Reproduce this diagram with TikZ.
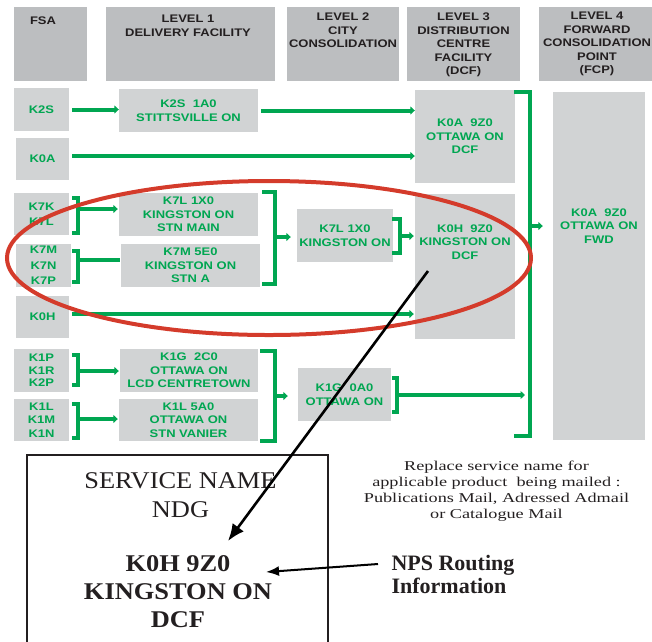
\documentclass[tikz,border=0pt]{standalone}
\usepackage{fontspec}
\setmainfont{Liberation Serif}
\newfontfamily\routefont{Liberation Sans}[FakeStretch=1.18]
\newfontfamily\labelfont{Liberation Serif}[FakeStretch=1.1]
\newfontfamily\notefont{Liberation Serif}[FakeStretch=1.35]
\usetikzlibrary{arrows.meta,positioning,calc}

\definecolor{npsgreen}{HTML}{00A651}
\definecolor{headgray}{HTML}{BCBEC0}
\definecolor{boxgray}{HTML}{D1D3D4}
\definecolor{ringred}{HTML}{D43B2B}
\definecolor{inkgray}{HTML}{231F20}

\tikzset{
	wh/.style 2 args={minimum width=#1pt, minimum height=#2pt},
	head/.style={fill=headgray, inner sep=0pt},
	headtext/.style={anchor=north, align=center, inner sep=0pt, text=inkgray,
		font=\routefont\bfseries\fontsize{11}{13.5}\selectfont},
	office/.style={fill=boxgray, inner sep=0pt, align=center, text=npsgreen,
		font=\routefont\bfseries\fontsize{11}{13.5}\selectfont},
	officetext/.style={inner sep=0pt, align=center, text=npsgreen,
		font=\routefont\bfseries\fontsize{11}{13.5}\selectfont},
	loose/.style={font=\routefont\bfseries\fontsize{11}{15.5}\selectfont},
	tight/.style={font=\routefont\bfseries\fontsize{11}{12.5}\selectfont},
	feed/.style={draw=npsgreen, line width=4pt},
	flow/.style={feed, -{Triangle[width=8pt,length=4.5pt]}},
	bracket/.style={draw=npsgreen, line width=4pt, line join=miter},
	pointer/.style={draw=black, line width=2.6pt, -{Latex[length=17pt,width=14pt]}},
}

\begin{document}
\begin{tikzpicture}[x=1pt, y=-1pt]
	\useasboundingbox (0,0) rectangle (652,641);

	% column headings
	\node [head, wh={73}{74}]  (fsa)  at (50.5,44) {};
	\node [head, wh={169}{74}] (lev1) at (190.5,44) {};
	\node [head, wh={112}{74}] (lev2) at (343,44) {};
	\node [head, wh={113}{74}] (lev3) at (463.5,44) {};
	\node [head, wh={113}{74}] (lev4) at (595.5,44) {};
	\node [headtext] (fsat)  at ([xshift=-7.5pt,yshift=-9.5pt]fsa.north) {FSA};
	\node [headtext] (lev1t) at ([xshift=-2.5pt,yshift=-8pt]lev1.north) {LEVEL 1\\DELIVERY FACILITY};
	\node [headtext] (lev2t) at ([yshift=-6.3pt]lev2.north) {LEVEL 2\\CITY\\CONSOLIDATION};
	\node [headtext] (lev3t) at ([yshift=-6.3pt]lev3.north) {LEVEL 3\\DISTRIBUTION\\CENTRE\\FACILITY\\(DCF)};
	\node [headtext] (lev4t) at ([xshift=1.5pt,yshift=-5.3pt]lev4.north) {LEVEL 4\\FORWARD\\CONSOLIDATION\\POINT\\(FCP)};

	% forward sortation areas
	\node [office, wh={55}{43}] (k2s) at (41.5,109.5) {K2S};
	\node [office, wh={53}{42}] (k0a) at (42.5,159) {K0A};
	\node [office, loose, wh={55}{42}] (k7k) at (41.5,214) {K7K\\K7L};
	\node [office, loose, wh={55}{43}] (k7m) at (43.5,265.5) {K7M\\K7N\\K7P};
	\node [office, wh={53}{42}] (k0h) at (42.5,317) {K0H};
	\node [office, tight, wh={55}{43}] (k1p) at (41.5,370.5) {K1P\\K1R\\K2P};
	\node [office, wh={55}{42}] (k1l) at (41.5,420) {K1L\\K1M\\K1N};

	% level 1
	\node [office, wh={139}{43}] (stitt)  at (188.5,110.5) {K2S\ \ 1A0\\STITTSVILLE ON};
	\node [office, wh={139}{43}] (kmain)  at (188.5,214.5) {K7L 1X0\\KINGSTON ON\\STN MAIN};
	\node [office, wh={139}{43}] (kstna)  at (190.5,265.5) {K7M 5E0\\KINGSTON ON\\STN A};
	\node [office, wh={138}{43}] (lcd)    at (189,370.5) {K1G\ \ 2C0\\OTTAWA ON\\LCD CENTRETOWN};
	\node [office, wh={139}{42}] (vanier) at (188.5,420) {K1L 5A0\\OTTAWA ON\\STN VANIER};

	% level 2
	\node [office, wh={96}{53}] (kcity) at (345,235.5) {K7L 1X0\\KINGSTON ON};
	\node [office, wh={93}{53}] (ocity) at (344.5,394.5) {K1G\ \ 0A0\\OTTAWA ON};

	% level 3 and level 4
	\node [office, wh={100}{93}] (odcf) at (465,136.5) {K0A\ \ 9Z0\\OTTAWA ON\\DCF};
	\node [office, wh={100}{145}] (kdcf) at (465,266.5) {};
	\node [officetext] (kdcft) at (465,242) {K0H\ \ 9Z0\\KINGSTON ON\\DCF};
	\node [office, wh={92}{348}] (ofwd) at (599,266) {};
	\node [officetext] (ofwdt) at (599,226) {K0A\ \ 9Z0\\OTTAWA ON\\FWD};

	% straight runs
	\draw [flow] ([xshift=3pt]k2s.east) -- (k2s.east -| stitt.west);
	\draw [flow] ([xshift=3pt]stitt.east) -- (stitt.east -| odcf.west);
	\draw [flow] ([xshift=3pt,yshift=3pt]k0a.east) -- ([yshift=3pt]k0a.east -| odcf.west);
	\draw [flow] ([xshift=3pt,yshift=3pt]k0h.east) -- ([xshift=-1pt,yshift=3pt]k0h.east -| kdcf.west);

	% FSA groups into their delivery offices
	\foreach \top/\bot/\mid/\dest/\kind in {198/233/209/kmain/flow, 251/282/260/kstna/feed,
			355/385/371/lcd/flow, 404/438/419/vanier/flow} {
		\draw [bracket] (72,\top) -| (78,\bot) -- (72,\bot);
		\coordinate (fork) at (78,\mid);
		\draw [\kind] (fork) -- ([xshift=-1pt]fork -| \dest.west);
	}

	% delivery offices into city consolidation
	\draw [bracket] (262,192) -| (275,284) -- (262,284);
	\coordinate (forkk) at (275,237);
	\draw [flow] (forkk) -- ([xshift=-6pt]forkk -| kcity.west);
	\draw [bracket] (260,351) -| (275,441) -- (260,441);
	\coordinate (forko) at (275,396);
	\draw [flow] (forko) -- ([xshift=-10pt]forko -| ocity.west);

	% city consolidation onwards
	\draw [bracket] (392,219) -| (400,253) -- (392,253);
	\coordinate (forkkc) at (400,236);
	\draw [flow] (forkkc) -- ([xshift=-1pt]forkkc -| kdcf.west);
	\draw [bracket] (514,92) -| (530,436) -- (514,436);
	\coordinate (spine) at (530,226);
	\draw [flow] (spine) -- ([xshift=-10pt]spine -| ofwd.west);
	\draw [bracket] (392,378) -| (397,412) -- (392,412);
	\coordinate (forkoc) at (397,395);
	\draw [flow] (forkoc) -- ([xshift=-5pt]forkoc -| spine);

	% Kingston routing ring
	\draw [ringred, line width=4pt] (269,258) ellipse [x radius=262pt, y radius=77pt];

	% label sample (base anchors sit on the last line)
	\draw [line width=2pt, inkgray] (27,645) -- (27,455) -- (328,455) -- (328,645);
	\node [anchor=base, align=center, text=inkgray, font=\labelfont\fontsize{24}{29}\selectfont]
		(service) at (180.5,517) {SERVICE NAME\\NDG};
	\node [anchor=base, align=center, text=inkgray, font=\labelfont\bfseries\fontsize{24}{28}\selectfont]
		(routing) at (178,627) {K0H 9Z0\\KINGSTON ON\\DCF};
	\node [anchor=base, align=center, text=inkgray, font=\notefont\fontsize{13.5}{16}\selectfont]
		(note) at (496.5,518) {Replace service name for\\applicable product\ \ being mailed :\\Publications Mail, Adressed Admail\\or Catalogue Mail};
	\node [anchor=base west, align=left, text=inkgray, font=\bfseries\fontsize{22}{22.5}\selectfont]
		(nps) at (388,593) {NPS Routing\\Information};

	\draw [pointer] ([xshift=-37pt,yshift=-4.5pt]kdcf.center) -- ([xshift=50pt,yshift=86pt]routing.base);
	\draw [pointer, line width=2pt, -{Latex[length=13pt,width=10pt]}]
		([xshift=-10pt,yshift=29pt]nps.base west) -- ([xshift=88pt,yshift=55pt]routing.base);
\end{tikzpicture}
\end{document}
